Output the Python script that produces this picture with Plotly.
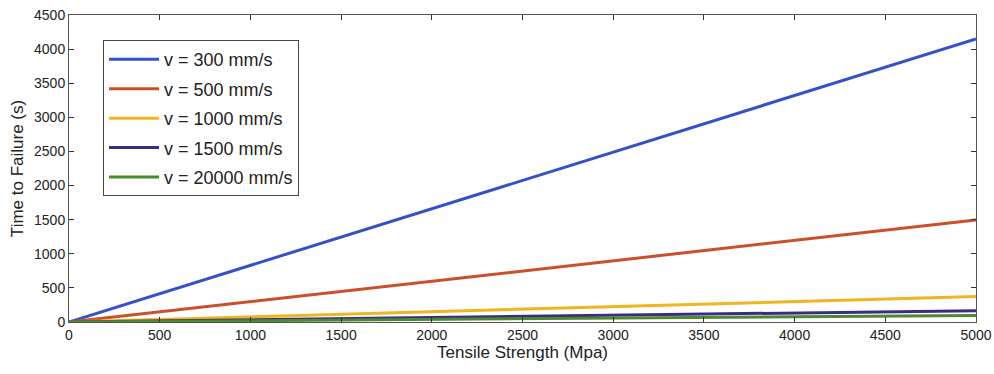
import plotly.graph_objects as go

tensile_strength = [0, 5000]
time_v300 = [0, 4150]
time_v500 = [0, 1495]
time_v1000 = [0, 375]
time_v1500 = [0, 165]
time_v20000 = [0, 95]

series_names = ["v = 300 mm/s", "v = 500 mm/s", "v = 1000 mm/s", "v = 1500 mm/s", "v = 20000 mm/s"]
series_values = [time_v300, time_v500, time_v1000, time_v1500, time_v20000]
colors = ["#3551c9", "#c9502b", "#f0b51f", "#3b2b82", "#4b8a2e"]

x_ticks = list(range(0, 5001, 500))
y_ticks = list(range(0, 4501, 500))

fig = go.Figure()
for name, vals, col in zip(series_names, series_values, colors):
    fig.add_trace(go.Scatter(x=tensile_strength, y=vals, mode="lines", name=name,
                             line=dict(color=col, width=3)))

font_family = "Liberation Sans, Arial, sans-serif"
axis_common = dict(showline=True, linecolor="#555555", linewidth=1, mirror="allticks",
                   ticks="inside", ticklen=5, tickcolor="#333333", showgrid=False, zeroline=False,
                   automargin=False,
                   tickfont=dict(family=font_family, size=14, color="#222222"))

fig.update_layout(
    width=994, height=374,
    margin=dict(l=69, r=18, t=15, b=52),
    paper_bgcolor="white", plot_bgcolor="white",
    font=dict(family=font_family, color="#222222"),
    xaxis=dict(range=[0, 5000], tickvals=x_ticks, **axis_common,
               title=dict(text="Tensile Strength (Mpa)", font=dict(size=17), standoff=4)),
    yaxis=dict(range=[0, 4500], tickvals=y_ticks, **axis_common,
               title=dict(text="Time to Failure (s)", font=dict(size=17), standoff=6)),
    legend=dict(x=0.0375, y=0.918, xanchor="left", yanchor="top",
                bgcolor="white", bordercolor="#444444", borderwidth=1,
                font=dict(family=font_family, size=18, color="#222222"),
                itemwidth=50, tracegroupgap=3),
    showlegend=True,
)
for i, tr in enumerate(fig.data):
    tr.legendgroup = "g%d" % i

fig.write_html("out.html", config={"displayModeBar": False},
               post_script="document.body.style.margin='0';")
